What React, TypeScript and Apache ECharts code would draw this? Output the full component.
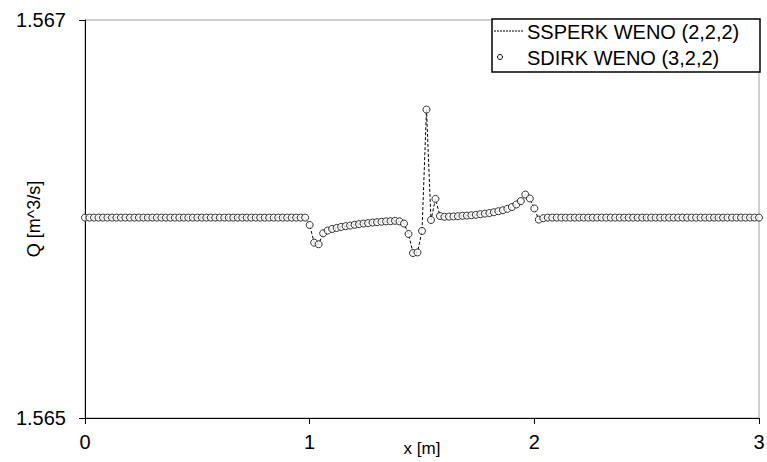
import React, { useEffect, useRef } from "react";
import * as echarts from "echarts";

// Grid nodes along the channel, x in metres
const xNodes: number[] = [
  0.0, 0.02, 0.04, 0.06, 0.08, 0.1, 0.12, 0.14, 0.16, 0.18,
  0.2, 0.22, 0.24, 0.26, 0.28, 0.3, 0.32, 0.34, 0.36, 0.38,
  0.4, 0.42, 0.44, 0.46, 0.48, 0.5, 0.52, 0.54, 0.56, 0.58,
  0.6, 0.62, 0.64, 0.66, 0.68, 0.7, 0.72, 0.74, 0.76, 0.78,
  0.8, 0.82, 0.84, 0.86, 0.88, 0.9, 0.92, 0.94, 0.96, 0.98,
  1.0, 1.02, 1.04, 1.06, 1.08, 1.1, 1.12, 1.14, 1.16, 1.18,
  1.2, 1.22, 1.24, 1.26, 1.28, 1.3, 1.32, 1.34, 1.36, 1.38,
  1.4, 1.42, 1.44, 1.46, 1.48, 1.5, 1.52, 1.54, 1.56, 1.58,
  1.6, 1.62, 1.64, 1.66, 1.68, 1.7, 1.72, 1.74, 1.76, 1.78,
  1.8, 1.82, 1.84, 1.86, 1.88, 1.9, 1.92, 1.94, 1.96, 1.98,
  2.0, 2.02, 2.04, 2.06, 2.08, 2.1, 2.12, 2.14, 2.16, 2.18,
  2.2, 2.22, 2.24, 2.26, 2.28, 2.3, 2.32, 2.34, 2.36, 2.38,
  2.4, 2.42, 2.44, 2.46, 2.48, 2.5, 2.52, 2.54, 2.56, 2.58,
  2.6, 2.62, 2.64, 2.66, 2.68, 2.7, 2.72, 2.74, 2.76, 2.78,
  2.8, 2.82, 2.84, 2.86, 2.88, 2.9, 2.92, 2.94, 2.96, 2.98,
  3.0,
];

// Discharge Q [m^3/s] at each node (both schemes coincide at this scale)
const dischargeQ: number[] = [
  1.566007, 1.566007, 1.566007, 1.566007, 1.566007, 1.566007, 1.566007, 1.566007, 1.566007, 1.566007,
  1.566007, 1.566007, 1.566007, 1.566007, 1.566007, 1.566007, 1.566007, 1.566007, 1.566007, 1.566007,
  1.566007, 1.566007, 1.566007, 1.566007, 1.566007, 1.566007, 1.566007, 1.566007, 1.566007, 1.566007,
  1.566007, 1.566007, 1.566007, 1.566007, 1.566007, 1.566007, 1.566007, 1.566007, 1.566007, 1.566007,
  1.566007, 1.566007, 1.566007, 1.566007, 1.566007, 1.566007, 1.566007, 1.566007, 1.566007, 1.566007,
  1.56597, 1.565881, 1.565873, 1.565928, 1.565942, 1.56595, 1.565955, 1.56596, 1.565964, 1.565967,
  1.565971, 1.565974, 1.565977, 1.565979, 1.565982, 1.565984, 1.565986, 1.565988, 1.565989, 1.565991,
  1.565988, 1.565977, 1.565925, 1.565829, 1.565832, 1.56594, 1.56655, 1.565995, 1.566101, 1.566015,
  1.566011, 1.566012, 1.566013, 1.566014, 1.566016, 1.566017, 1.566019, 1.566021, 1.566024, 1.566027,
  1.56603, 1.566034, 1.566039, 1.566044, 1.566051, 1.56606, 1.566073, 1.56609, 1.566123, 1.566103,
  1.566053, 1.565997, 1.566004, 1.566007, 1.566007, 1.566007, 1.566007, 1.566007, 1.566007, 1.566007,
  1.566007, 1.566007, 1.566007, 1.566007, 1.566007, 1.566007, 1.566007, 1.566007, 1.566007, 1.566007,
  1.566007, 1.566007, 1.566007, 1.566007, 1.566007, 1.566007, 1.566007, 1.566007, 1.566007, 1.566007,
  1.566007, 1.566007, 1.566007, 1.566007, 1.566007, 1.566007, 1.566007, 1.566007, 1.566007, 1.566007,
  1.566007, 1.566007, 1.566007, 1.566007, 1.566007, 1.566007, 1.566007, 1.566007, 1.566007, 1.566007,
  1.566007,
];

const seriesNames = ["SSPERK WENO (2,2,2)", "SDIRK WENO (3,2,2)"];
const xTicks = { min: 0, max: 3, interval: 1 };
const yTicks = { min: 1.565, max: 1.567, interval: 0.002 };

const FONT = "'Liberation Sans', Arial, sans-serif";

export default function App() {
  const ref = useRef<HTMLDivElement>(null);

  useEffect(() => {
    if (!ref.current) return;
    const chart = echarts.init(ref.current, undefined, { renderer: "svg" });
    const pts = xNodes.map((x, i) => [x, dischargeQ[i]]);

    chart.setOption({
      animation: false,
      backgroundColor: "#ffffff",
      grid: {
        left: 85,
        right: 8,
        top: 20,
        bottom: 44,
        outerBoundsMode: "none",
        containLabel: false,
        show: true,
        borderColor: "#a0a0a0",
        borderWidth: 1,
      },
      xAxis: {
        type: "value",
        min: xTicks.min,
        max: xTicks.max,
        interval: xTicks.interval,
        name: "x [m]",
        nameLocation: "middle",
        nameGap: 22,
        nameMoveOverlap: false,
        nameTextStyle: { color: "#000", fontFamily: FONT, fontSize: 17 },
        axisLine: { show: true, onZero: false, lineStyle: { color: "#000", width: 1 } },
        axisTick: { show: true, length: 6, lineStyle: { color: "#000" } },
        axisLabel: { color: "#000", fontFamily: FONT, fontSize: 20, margin: 14 },
        splitLine: { show: false },
      },
      yAxis: {
        type: "value",
        min: yTicks.min,
        max: yTicks.max,
        interval: yTicks.interval,
        name: "Q [m^3/s]",
        nameLocation: "middle",
        nameGap: 42,
        nameMoveOverlap: false,
        nameTextStyle: { color: "#000", fontFamily: FONT, fontSize: 18 },
        axisLine: { show: true, lineStyle: { color: "#000", width: 1 } },
        axisTick: { show: true, length: 6, lineStyle: { color: "#000" } },
        axisLabel: {
          color: "#000",
          fontFamily: FONT,
          fontSize: 20,
          margin: 19,
          formatter: (v: number) => v.toFixed(3),
        },
        splitLine: { show: false },
      },
      series: [
        {
          name: seriesNames[0],
          type: "line",
          data: pts,
          symbol: "none",
          lineStyle: { color: "#000", width: 1, type: [3, 2] },
          z: 2,
        },
        {
          name: seriesNames[1],
          type: "scatter",
          data: pts,
          symbol: "circle",
          symbolSize: 7,
          itemStyle: { color: "#fff", borderColor: "#000", borderWidth: 1 },
          z: 3,
        },
      ],
      graphic: [
        {
          type: "rect",
          shape: { x: 492, y: 19, width: 268, height: 53 },
          style: { fill: "#fff", stroke: "#000", lineWidth: 1.5 },
          z: 10,
        },
        {
          type: "line",
          shape: { x1: 494, y1: 31, x2: 524, y2: 31 },
          style: { stroke: "#000", lineWidth: 1, lineDash: [2, 1] },
          z: 11,
        },
        {
          type: "circle",
          shape: { cx: 500, cy: 57, r: 2.5 },
          style: { fill: "#fff", stroke: "#000", lineWidth: 1 },
          z: 11,
        },
        {
          type: "text",
          x: 527,
          y: 32,
          style: {
            text: seriesNames[0],
            fill: "#000",
            font: `20px ${FONT}`,
            textVerticalAlign: "middle",
          },
          z: 11,
        },
        {
          type: "text",
          x: 527,
          y: 58,
          style: {
            text: seriesNames[1],
            fill: "#000",
            font: `20px ${FONT}`,
            textVerticalAlign: "middle",
          },
          z: 11,
        },
      ],
    });

    return () => chart.dispose();
  }, []);

  return (
    <div
      ref={ref}
      style={{ position: "absolute", left: 0, top: 0, width: 767, height: 462 }}
    />
  );
}
